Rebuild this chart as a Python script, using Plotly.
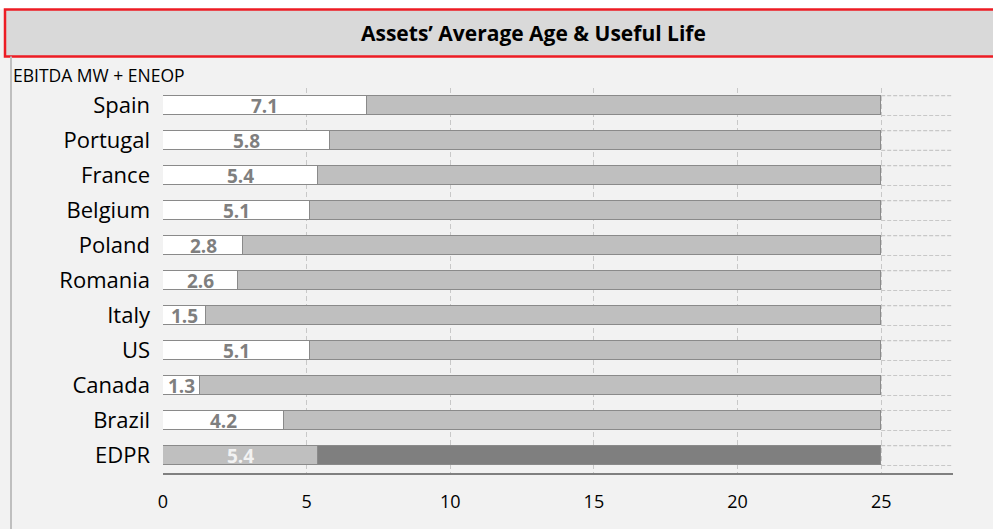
import plotly.graph_objects as go

countries = ["Spain", "Portugal", "France", "Belgium", "Poland", "Romania",
             "Italy", "US", "Canada", "Brazil", "EDPR"]
avg_age = [7.1, 5.8, 5.4, 5.1, 2.8, 2.6, 1.5, 5.1, 1.3, 4.2, 5.4]
useful_life = [25] * len(countries)
x_ticks = [0, 5, 10, 15, 20, 25]

remaining = [u - a for u, a in zip(useful_life, avg_age)]
FONT = "Open Sans"
n = len(countries)
BW = 0.57

age_fill = ["#ffffff"] * (n - 1) + ["#bfbfbf"]
rem_fill = ["#bfbfbf"] * (n - 1) + ["#7f7f7f"]
lbl_col = ["#7f7f7f"] * (n - 1) + ["#f2f2f2"]

fig = go.Figure()
fig.add_trace(go.Bar(
    y=countries, x=avg_age, orientation="h", width=BW,
    marker=dict(color=age_fill, line=dict(color="#8a8a8a", width=1.5)),
    hoverinfo="skip", showlegend=False))
fig.add_trace(go.Bar(
    y=countries, x=remaining, orientation="h", width=BW,
    marker=dict(color=rem_fill, line=dict(color="#8a8a8a", width=1.5)),
    hoverinfo="skip", showlegend=False))

annotations = []
for c, a, col in zip(countries, avg_age, lbl_col):
    annotations.append(dict(x=a / 2, y=c, xref="x", yref="y", text=f"<b>{a:.1f}</b>",
                            showarrow=False, yshift=0, yanchor="middle",
                            font=dict(family=FONT, size=19, color=col)))

shapes = []
# header band
shapes.append(dict(type="rect", xref="paper", yref="paper", x0=-0.25, x1=1.1,
                   y0=1.2039, y1=1.4, fillcolor="#ffffff", line=dict(width=0), layer="below"))
shapes.append(dict(type="rect", xref="paper", yref="paper", x0=-0.2, x1=1.08,
                   y0=1.0818, y1=1.2039, fillcolor="#d9d9d9",
                   line=dict(color="#ed1c24", width=2.5), layer="below"))
# left border line
shapes.append(dict(type="line", xref="paper", yref="paper", x0=-0.1924, x1=-0.1924,
                   y0=-0.2, y1=1.0818, line=dict(color="#bfbfbf", width=2)))
# dashed guides beyond useful life
for i, u in enumerate(useful_life):
    for off in (-BW / 2, BW / 2):
        shapes.append(dict(type="line", xref="x", yref="y", x0=u, x1=27.55,
                           y0=i + off, y1=i + off,
                           line=dict(color="#c8c8c8", width=1.2, dash="4px,2px")))

annotations.append(dict(x=0.4696, y=1.1429, xref="paper", yref="paper",
                        xanchor="center", yanchor="middle",
                        text="<b>Assets’ Average Age &amp; Useful Life</b>", showarrow=False,
                        font=dict(family=FONT, size=21, color="#000000")))
annotations.append(dict(x=-0.193, y=1.034, xref="paper", yref="paper",
                        xanchor="left", yanchor="middle",
                        text="EBITDA MW + ENEOP", showarrow=False,
                        font=dict(family=FONT, size=17.5, color="#000000")))

fig.update_layout(
    barmode="stack", bargap=0,
    width=993, height=529,
    margin=dict(l=163, r=40, t=88, b=56),
    paper_bgcolor="#f2f2f2", plot_bgcolor="#f2f2f2",
    font=dict(family=FONT, color="#000000"),
    shapes=shapes, annotations=annotations,
    xaxis=dict(range=[0, 27.5], tickvals=x_ticks, showgrid=True,
               gridcolor="#c8c8c8", griddash="5px,3px", gridwidth=1,
               zeroline=False, showline=True, linecolor="#808080", linewidth=2,
               ticks="", ticklabelstandoff=11, tickfont=dict(size=18)),
    yaxis=dict(categoryorder="array", categoryarray=countries,
               range=[n - 0.5, -0.5], showgrid=False, zeroline=False,
               ticks="", ticklabelstandoff=12, tickfont=dict(size=22)),
)

fig.write_html("out.html", config={"displayModeBar": False},
               post_script="document.body.style.margin='0';")
